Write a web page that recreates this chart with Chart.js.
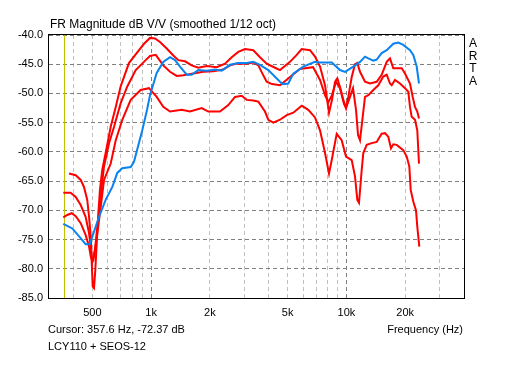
<!DOCTYPE html>
<html>
<head>
<meta charset="utf-8">
<script src="https://cdn.jsdelivr.net/npm/chart.js@4"></script>
<style>
  body { margin: 0; background: #fff; }
  #grafico { display: block; }
</style>
</head>
<body>
<canvas id="grafico" width="512" height="384"></canvas>
<script>
// eixo X: frequencias das grades e rotulos
const xTickValues = [400, 500, 600, 700, 800, 900, 1000, 2000, 3000, 4000, 5000, 6000, 7000, 8000, 9000, 10000, 20000, 30000];
const xTickLabels = ['', '500', '', '', '', '', '1k', '2k', '', '', '5k', '', '', '', '', '10k', '20k', ''];
const decadeTicks = [1000, 10000];
const cursorHz = 357.6;

// curva azul
const blueFreq = [355, 395, 444, 462, 485, 500, 520, 541, 585, 633, 671, 712, 786, 817, 901, 953, 987, 1068, 1154, 1250, 1325, 1406, 1522, 1613, 1744, 1926, 2124, 2298, 2536, 2795, 3086, 3336, 3609, 3981, 4570, 4737, 5040, 5346, 6015, 6904, 7325, 8410, 9271, 9834, 10846, 11740, 12450, 12945, 13728, 14290, 15153, 16080, 17382, 18432, 19550, 21160, 22000, 22900, 23530];
const blueDb = [-72.3, -73.1, -75.1, -75.8, -75.8, -74.5, -72.8, -71.1, -68.2, -66.0, -63.6, -62.8, -62.6, -61.7, -56.3, -52.8, -50.3, -46.5, -44.6, -43.8, -44.3, -45.4, -46.8, -46.8, -46.0, -46.1, -45.9, -46.1, -45.1, -44.8, -44.8, -44.6, -45.1, -46.0, -48.0, -48.4, -48.3, -46.6, -45.4, -44.6, -44.7, -44.7, -46.0, -46.3, -45.4, -44.6, -43.7, -44.0, -44.4, -44.2, -43.1, -42.6, -41.5, -41.3, -41.7, -42.6, -43.4, -45.4, -48.3];

// curva vermelha de cima
const redTopFreq = [380, 411, 436, 453, 471, 481, 491, 496, 502, 510, 518, 526, 536, 547, 562, 585, 621, 659, 698, 770, 867, 920, 987, 1047, 1110, 1202, 1299, 1378, 1491, 1613, 1744, 1926, 2167, 2390, 2586, 2795, 3025, 3336, 3609, 3907, 4308, 4570, 5142, 5564, 5902, 6510, 6904, 7325, 7771, 8145, 8436, 8743, 8983, 9271, 9639, 9952, 10225, 10644, 11066, 11370, 11740, 12450, 13204, 14290, 15153, 16080, 16716, 17382, 19190, 19950, 21160, 21850, 22450, 23060, 23530];
const redTopDb = [-63.7, -64.0, -64.8, -66.0, -68.2, -71.1, -74.5, -78.5, -83.0, -83.3, -80.2, -75.9, -70.8, -66.5, -63.1, -60.2, -55.7, -52.3, -48.8, -44.8, -42.6, -41.5, -40.5, -40.6, -41.2, -42.3, -43.5, -44.3, -44.5, -45.2, -45.6, -45.3, -45.5, -44.9, -43.8, -42.9, -42.4, -42.6, -43.8, -44.9, -45.6, -46.0, -44.6, -43.4, -42.4, -42.6, -43.7, -45.4, -48.6, -53.3, -51.1, -48.0, -47.4, -48.9, -51.1, -52.5, -50.6, -47.2, -45.0, -44.8, -46.3, -48.0, -48.3, -48.0, -46.8, -44.6, -44.0, -45.7, -45.7, -46.6, -48.3, -50.6, -52.3, -53.1, -54.3];

// curva vermelha do meio
const redMidFreq = [355, 387, 411, 436, 462, 481, 491, 496, 506, 516, 526, 541, 558, 574, 609, 646, 698, 755, 834, 938, 987, 1056, 1154, 1250, 1352, 1462, 1644, 1850, 2081, 2342, 2536, 2744, 3086, 3336, 3539, 3754, 3907, 4159, 4570, 5142, 5783, 6745, 7325, 7771, 8077, 8436, 8846, 9271, 9718, 9952, 10432, 10810, 11198, 11467, 11740, 12116, 12450, 12945, 13728, 14561, 15440, 16080, 16716, 17059, 17735, 18810, 19950, 20740, 21160, 21584, 22450, 23060, 23530];
const redMidDb = [-67.0, -67.0, -67.7, -69.1, -71.1, -73.9, -76.2, -78.2, -78.5, -76.8, -73.9, -70.5, -66.0, -62.5, -58.5, -55.7, -51.7, -48.8, -46.0, -44.3, -43.6, -43.4, -45.2, -46.3, -47.0, -46.9, -46.6, -46.3, -46.2, -45.9, -45.2, -44.9, -44.9, -44.7, -45.2, -46.9, -48.0, -48.4, -48.6, -47.2, -45.8, -45.5, -47.7, -50.3, -51.5, -50.3, -48.0, -49.1, -51.8, -52.5, -50.6, -49.1, -52.8, -57.1, -58.0, -54.0, -50.6, -50.3, -49.4, -48.6, -47.1, -46.8, -48.3, -48.6, -47.7, -48.3, -49.1, -49.7, -52.3, -54.0, -54.5, -56.3, -62.0];

// curva vermelha de baixo
const redLowFreq = [355, 372, 392, 411, 436, 462, 481, 491, 500, 510, 522, 536, 552, 574, 621, 659, 712, 786, 884, 975, 1068, 1154, 1250, 1434, 1582, 1816, 1963, 2252, 2484, 2689, 2910, 3086, 3336, 3539, 3828, 3981, 4224, 4570, 4948, 5346, 5902, 6380, 6904, 7325, 7771, 8145, 8410, 8917, 9457, 9952, 10644, 11066, 11370, 11600, 11974, 12201, 12700, 13470, 14290, 15153, 15760, 16383, 16914, 17382, 18090, 19550, 20360, 20994, 21337, 22000, 22716, 23060, 23620];
const redLowDb = [-71.2, -70.8, -70.5, -71.0, -72.2, -74.2, -76.2, -77.9, -78.8, -77.6, -75.6, -72.8, -69.4, -64.8, -62.0, -58.0, -54.5, -51.1, -49.4, -49.1, -50.6, -52.3, -53.1, -52.8, -53.1, -52.5, -53.1, -53.1, -52.0, -50.6, -50.4, -51.1, -51.2, -51.4, -53.1, -54.5, -55.0, -54.5, -53.7, -53.3, -52.1, -52.8, -54.1, -56.3, -60.2, -63.7, -61.4, -56.9, -58.0, -60.8, -61.4, -64.2, -68.2, -68.7, -63.1, -60.2, -58.8, -58.5, -58.3, -56.9, -56.8, -57.4, -59.4, -58.7, -58.8, -59.7, -60.8, -62.5, -66.5, -68.5, -70.0, -72.8, -76.2];

const FONTE = '"Liberation Sans", Arial, sans-serif';

function pontos(freqs, dbs) {
    return freqs.map((f, i) => ({ x: f, y: dbs[i] }));
}

function serie(freqs, dbs, cor) {
    return {
        data: pontos(freqs, dbs),
        borderColor: cor,
        borderWidth: 2,
        pointRadius: 0,
        tension: 0,
        fill: false
    };
}

// desenha moldura, cursor e textos fixos do ARTA
const extras = {
    id: 'extras',
    beforeDatasetsDraw(chart) {
        const { ctx, chartArea, scales } = chart;
        const x = Math.round(scales.x.getPixelForValue(cursorHz)) + 0.5;
        ctx.save();
        ctx.strokeStyle = '#c0c000';
        ctx.lineWidth = 1;
        ctx.beginPath();
        ctx.moveTo(x, chartArea.top);
        ctx.lineTo(x, chartArea.bottom);
        ctx.stroke();
        ctx.restore();
    },
    afterDraw(chart) {
        const { ctx, chartArea } = chart;
        ctx.save();
        ctx.strokeStyle = '#000';
        ctx.lineWidth = 1;
        ctx.strokeRect(chartArea.left - 0.5, chartArea.top - 0.5, chartArea.width + 1, chartArea.height + 1);

        ctx.fillStyle = '#000';
        ctx.textBaseline = 'middle';
        ctx.font = '12px ' + FONTE;
        ctx.textAlign = 'left';
        ctx.fillText('FR Magnitude dB V/V (smoothed 1/12 oct)', 50, 25);

        ctx.font = '11px ' + FONTE;
        ctx.fillText('Cursor: 357.6 Hz, -72.37 dB', 48, 330);
        ctx.fillText('LCY110 + SEOS-12', 48, 347);
        ctx.textAlign = 'right';
        ctx.fillText('Frequency (Hz)', 463, 330);

        ctx.font = '12px ' + FONTE;
        ctx.textAlign = 'center';
        ['A', 'R', 'T', 'A'].forEach((letra, i) => {
            ctx.fillText(letra, 473, 43.5 + i * 12.7);
        });
        ctx.restore();
    }
};

const ctx = document.getElementById('grafico').getContext('2d');

new Chart(ctx, {
    type: 'line',
    data: {
        datasets: [
            serie(blueFreq, blueDb, '#0a82f0'),
            serie(redTopFreq, redTopDb, '#ff0000'),
            serie(redMidFreq, redMidDb, '#ff0000'),
            serie(redLowFreq, redLowDb, '#ff0000')
        ]
    },
    options: {
        responsive: false,
        animation: false,
        layout: { padding: { left: 0, top: 35, right: 48, bottom: 0 } },
        plugins: {
            legend: { display: false },
            tooltip: { enabled: false }
        },
        scales: {
            x: {
                type: 'logarithmic',
                min: 300,
                max: 40000,
                afterBuildTicks: (scale) => {
                    scale.ticks = xTickValues.map(v => ({ value: v }));
                },
                afterFit: (scale) => { scale.height = 86; },
                ticks: {
                    autoSkip: false,
                    maxRotation: 0,
                    padding: 8,
                    color: '#000',
                    font: { family: FONTE, size: 11 },
                    callback: (v) => {
                        const i = xTickValues.indexOf(v);
                        return i >= 0 ? xTickLabels[i] : '';
                    }
                },
                grid: {
                    drawTicks: false,
                    color: (c) => decadeTicks.includes(c.tick && c.tick.value) ? '#808080' : '#c0c0c0'
                },
                border: { display: false, dash: [4, 3] }
            },
            y: {
                min: -85,
                max: -40,
                afterFit: (scale) => { scale.width = 49; },
                ticks: {
                    stepSize: 5,
                    padding: 6,
                    color: '#000',
                    font: { family: FONTE, size: 11 },
                    callback: (v) => v.toFixed(1)
                },
                grid: { drawTicks: false, color: '#808080' },
                border: { display: false, dash: [4, 3] }
            }
        }
    },
    plugins: [extras]
});
</script>
</body>
</html>
